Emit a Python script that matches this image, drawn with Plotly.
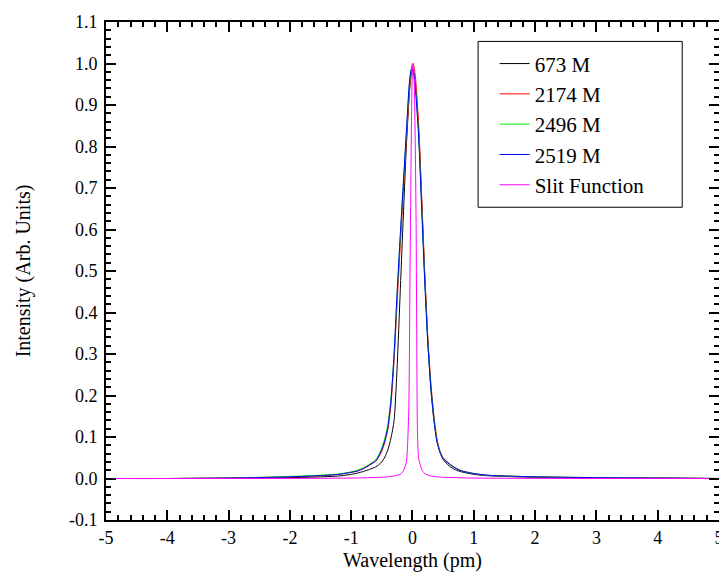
import plotly.graph_objects as go

# wavelength grid (pm) for the measured profiles
wl = [-5, -4, -3, -2, -1.5, -1.2, -1.0, -0.9, -0.8, -0.7, -0.6, -0.55, -0.5,
      -0.45, -0.4, -0.35, -0.3, -0.25, -0.2, -0.15, -0.1, -0.05, -0.02, 0,
      0.02, 0.05, 0.1, 0.15, 0.2, 0.25, 0.3, 0.35, 0.4, 0.45, 0.5, 0.6, 0.7,
      0.8, 1.0, 1.2, 1.5, 2, 3, 4, 5]

i_673 = [0.0, 0.0, 0.001, 0.002, 0.004, 0.006, 0.010, 0.013, 0.017, 0.022,
         0.028, 0.033, 0.040, 0.052, 0.070, 0.098, 0.140, 0.270, 0.450, 0.630,
         0.800, 0.930, 0.975, 0.985, 0.980, 0.945, 0.840, 0.670, 0.490, 0.335,
         0.215, 0.140, 0.090, 0.062, 0.046, 0.030, 0.021, 0.016, 0.010, 0.007,
         0.005, 0.003, 0.001, 0.001, 0.0]
i_2174 = [0.0, 0.0, 0.001, 0.004, 0.007, 0.010, 0.015, 0.018, 0.024, 0.032,
          0.042, 0.052, 0.066, 0.088, 0.120, 0.180, 0.285, 0.425, 0.560, 0.690,
          0.815, 0.935, 0.985, 1.000, 0.995, 0.965, 0.855, 0.680, 0.495, 0.340,
          0.230, 0.150, 0.095, 0.066, 0.050, 0.036, 0.026, 0.019, 0.012, 0.008,
          0.006, 0.004, 0.002, 0.001, 0.0]
i_2496 = [0.0, 0.0, 0.001, 0.005, 0.008, 0.011, 0.016, 0.020, 0.026, 0.035,
          0.046, 0.058, 0.074, 0.098, 0.132, 0.195, 0.300, 0.445, 0.580, 0.705,
          0.830, 0.950, 0.985, 0.990, 0.980, 0.940, 0.830, 0.655, 0.480, 0.328,
          0.222, 0.144, 0.090, 0.064, 0.049, 0.035, 0.025, 0.018, 0.012, 0.008,
          0.006, 0.004, 0.002, 0.001, 0.0]
i_2519 = [0.0, 0.0, 0.001, 0.004, 0.007, 0.010, 0.015, 0.018, 0.024, 0.033,
          0.042, 0.054, 0.070, 0.092, 0.125, 0.190, 0.300, 0.450, 0.585, 0.710,
          0.835, 0.955, 0.985, 0.985, 0.975, 0.935, 0.825, 0.650, 0.475, 0.325,
          0.220, 0.142, 0.088, 0.063, 0.048, 0.035, 0.025, 0.018, 0.012, 0.008,
          0.006, 0.004, 0.002, 0.001, 0.0]

# slit function is much narrower, own grid
wl_slit = [-5, -3, -1, -0.5, -0.3, -0.2, -0.15, -0.1, -0.08, -0.06, -0.05,
           -0.04, -0.03, -0.015, 0, 0.015, 0.03, 0.05, 0.06, 0.07, 0.08, 0.1,
           0.15, 0.2, 0.3, 0.5, 1, 3, 5]
i_slit = [0.0, 0.0, 0.001, 0.003, 0.006, 0.010, 0.018, 0.040, 0.080, 0.170,
          0.300, 0.500, 0.660, 0.880, 0.985, 1.000, 0.950, 0.750, 0.600, 0.320,
          0.120, 0.050, 0.022, 0.012, 0.006, 0.003, 0.001, 0.0, 0.0]

names = ['673 M', '2174 M', '2496 M', '2519 M', 'Slit Function']
colors = ['#000000', '#ff0000', '#00ff00', '#0000ff', '#ff00ff']

x_ticks = [-5, -4, -3, -2, -1, 0, 1, 2, 3, 4, 5]
x_labels = ['-5', '-4', '-3', '-2', '-1', '0', '1', '2', '3', '4', '5']
y_ticks = [-0.1, 0.0, 0.1, 0.2, 0.3, 0.4, 0.5, 0.6, 0.7, 0.8, 0.9, 1.0, 1.1]
y_labels = ['-0.1', '0.0', '0.1', '0.2', '0.3', '0.4', '0.5', '0.6', '0.7',
            '0.8', '0.9', '1.0', '1.1']

series = [(wl, i_673), (wl, i_2174), (wl, i_2496), (wl, i_2519),
          (wl_slit, i_slit)]

fig = go.Figure()
for (xs, ys), name, col in zip(series, names, colors):
    fig.add_trace(go.Scatter(x=xs, y=ys, mode='lines', name=name,
                             line=dict(color=col, width=1, shape='spline',
                                       smoothing=0.6)))

font = dict(family='Liberation Serif, Times New Roman, serif', color='black')

axis_common = dict(
    showgrid=False, zeroline=False, showline=True, linecolor='black',
    linewidth=2, mirror='allticks', ticks='inside', ticklen=10,
    tickwidth=2, tickcolor='black', tickfont=dict(size=18, **font),
    automargin=False,
)

fig.update_xaxes(range=[-5, 5.0005], tickvals=x_ticks, ticktext=x_labels,
                 title=dict(text='Wavelength (pm)', font=dict(size=20, **font),
                            standoff=6),
                 minor=dict(ticks='inside', dtick=0.2, ticklen=5, tickwidth=2,
                            tickcolor='black'),
                 **axis_common)
fig.update_yaxes(range=[-0.1, 1.1], tickvals=y_ticks, ticktext=y_labels,
                 ticklabelstandoff=3,
                 title=dict(text='Intensity (Arb. Units)',
                            font=dict(size=20, **font), standoff=33),
                 minor=dict(ticks='inside', dtick=0.02, ticklen=5, tickwidth=2,
                            tickcolor='black'),
                 **axis_common)

# legend frame drawn separately so it can be wider than plotly's own box
fig.add_shape(type='rect', xref='paper', yref='paper',
              x0=0.607, x1=0.940, y0=0.628, y1=0.961,
              line=dict(color='black', width=1), fillcolor='white',
              layer='below')

# page body adds an 8px offset, so the figure is drawn smaller to fit
fig.update_layout(
    width=719, height=568,
    margin=dict(l=98, r=8, t=14, b=56),
    plot_bgcolor='white', paper_bgcolor='white',
    font=font,
    legend=dict(x=0.634, y=0.957, xanchor='left', yanchor='top',
                borderwidth=0, bgcolor='rgba(0,0,0,0)',
                font=dict(size=21, **font), tracegroupgap=0),
)

fig.write_html("out.html")
